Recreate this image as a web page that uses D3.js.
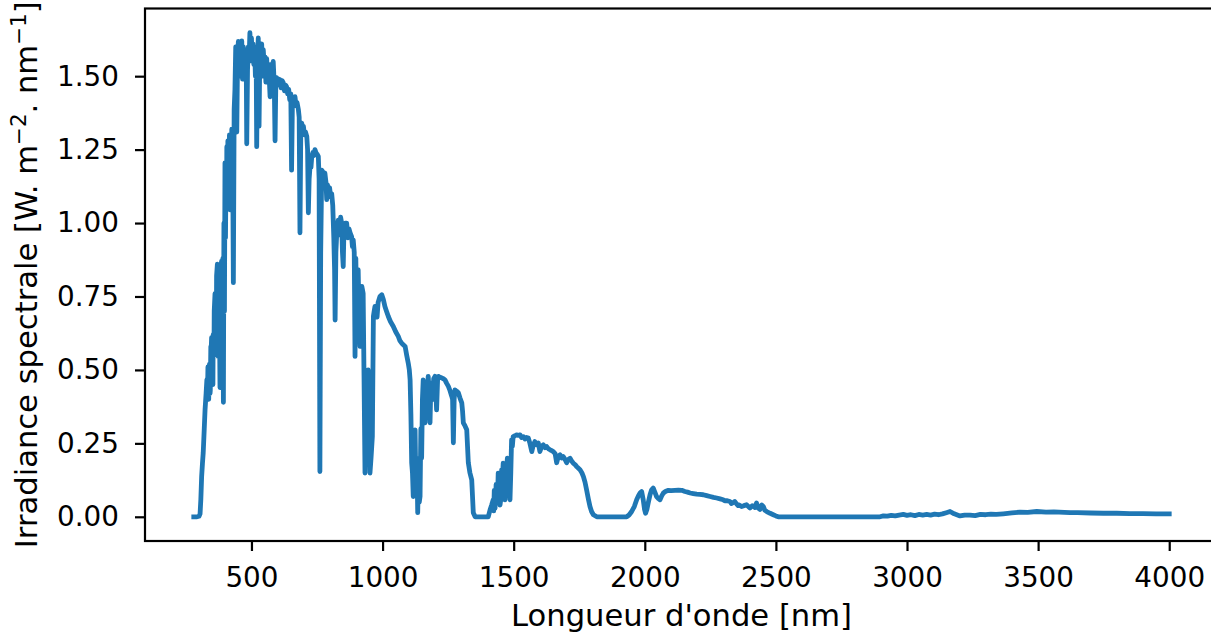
<!DOCTYPE html>
<html>
<head>
<meta charset="utf-8">
<script src="https://cdn.jsdelivr.net/npm/d3@7"></script>
<style>
  html, body { margin: 0; padding: 0; background: #ffffff; }
  svg { display: block; }
  text { font-family: "DejaVu Sans", sans-serif; }
</style>
</head>
<body>
<svg id="chart" width="1211" height="637"></svg>
<script>
// ---- Data: AM1.5 solar spectral irradiance ----
const wavelength = [
  280, 290, 300, 304, 307, 310, 313, 316, 320, 323,
  327, 330, 334, 337, 340, 343, 346, 348, 351, 353,
  356, 358, 361, 364, 367, 370, 373, 375, 377, 380,
  383, 386, 389, 391, 393, 396, 399, 402, 404, 406,
  409, 412, 415, 418, 421, 425, 428, 431, 434, 437,
  440, 442, 444, 447, 450, 453, 456, 459, 463, 466,
  469, 472, 475, 478, 480, 482, 485, 488, 491, 494,
  497, 500, 503, 506, 509, 512, 515, 518, 520, 523,
  526, 529, 532, 535, 539, 542, 545, 549, 552, 555,
  558, 561, 564, 568, 571, 574, 577, 580, 583, 587,
  590, 593, 596, 600, 604, 609, 613, 617, 621, 626,
  630, 634, 638, 642, 646, 650, 653, 656, 660, 663,
  666, 670, 674, 679, 682, 685, 688, 692, 695, 698,
  702, 706, 711, 714, 717, 720, 724, 727, 730, 734,
  738, 742, 746, 750, 755, 758, 761, 764, 768, 772,
  776, 780, 784, 787, 790, 794, 798, 802, 806, 810,
  814, 817, 819, 822, 826, 831, 835, 840, 844, 847,
  850, 853, 857, 863, 868, 872, 876, 882, 885, 888,
  892, 895, 898, 901, 904, 907, 910, 914, 917, 921,
  926, 929, 933, 936, 940, 945, 948, 952, 956, 961,
  965, 968, 971, 975, 979, 983, 990, 997, 1003, 1009,
  1015, 1022, 1030, 1041, 1050, 1060, 1066, 1073, 1080, 1086,
  1092, 1098, 1102, 1105, 1108, 1111, 1114, 1117, 1120, 1124,
  1127, 1131, 1134, 1137, 1140, 1143, 1146, 1149, 1152, 1155,
  1158, 1162, 1166, 1170, 1174, 1178, 1181, 1184, 1187, 1191,
  1195, 1200, 1203, 1206, 1210, 1213, 1219, 1225, 1232, 1238,
  1244, 1251, 1257, 1262, 1264, 1267, 1270, 1273, 1276, 1282,
  1289, 1295, 1302, 1305, 1308, 1314, 1321, 1324, 1327, 1333,
  1340, 1346, 1353, 1380, 1403, 1410, 1416, 1422, 1429, 1435,
  1441, 1448, 1454, 1460, 1467, 1473, 1480, 1486, 1492, 1498,
  1505, 1511, 1518, 1524, 1530, 1537, 1543, 1549, 1556, 1562,
  1569, 1575, 1581, 1588, 1594, 1600, 1607, 1613, 1620, 1626,
  1632, 1639, 1645, 1651, 1658, 1664, 1670, 1677, 1683, 1689,
  1696, 1702, 1708, 1715, 1721, 1727, 1734, 1740, 1746, 1753,
  1760, 1766, 1772, 1778, 1785, 1791, 1797, 1804, 1817, 1850,
  1900, 1931, 1940, 1950, 1960, 1969, 1976, 1982, 1988, 1994,
  1999, 2003, 2008, 2013, 2020, 2026, 2032, 2038, 2045, 2052,
  2058, 2065, 2071, 2080, 2090, 2100, 2115, 2128, 2141, 2153,
  2163, 2173, 2185, 2198, 2210, 2223, 2236, 2249, 2262, 2274,
  2287, 2299, 2312, 2325, 2337, 2350, 2360, 2369, 2378, 2388,
  2395, 2401, 2410, 2420, 2426, 2432, 2439, 2446, 2452, 2458,
  2465, 2478, 2490, 2500, 2509, 2600, 2700, 2800, 2897, 2910,
  2925, 2940, 2955, 2970, 2986, 3000, 3015, 3030, 3045, 3060,
  3075, 3090, 3105, 3120, 3135, 3150, 3164, 3180, 3202, 3220,
  3240, 3260, 3280, 3300, 3320, 3340, 3367, 3400, 3431, 3460,
  3495, 3530, 3560, 3600, 3622, 3650, 3700, 3749, 3800, 3850,
  3900, 3950, 4000,
  395, 397, 400, 401, 403, 405, 407, 408, 410, 411,
  413, 414, 416, 417, 419, 420, 422, 423, 424, 426,
  332, 335, 338, 342, 345, 349, 354, 357, 362, 366,
  1424, 1426, 1431, 1433, 1438, 1443, 1446, 1451, 1457, 1463,
  1470, 1476, 1478, 1483, 1489, 1495, 2305, 2330, 2343, 2356
];

const irradiance = [
  0.000, 0.000, 0.002, 0.010, 0.060, 0.137, 0.180, 0.218, 0.300, 0.364,
  0.420, 0.467, 0.510, 0.400, 0.520, 0.430, 0.560, 0.610, 0.480, 0.450,
  0.620, 0.700, 0.760, 0.580, 0.820, 0.860, 0.546, 0.850, 0.780, 0.440,
  0.840, 0.870, 0.800, 0.880, 0.390, 0.860, 1.205, 1.060, 1.150, 1.260,
  1.100, 1.220, 1.140, 1.045, 1.280, 1.320, 1.250, 0.797, 1.386, 1.454,
  1.600, 1.480, 1.310, 1.560, 1.618, 1.520, 1.600, 1.500, 1.620, 1.490,
  1.600, 1.530, 1.590, 1.500, 1.560, 1.270, 1.520, 1.600, 1.560, 1.648,
  1.580, 1.630, 1.550, 1.610, 1.540, 1.600, 1.500, 1.560, 1.260, 1.560,
  1.630, 1.330, 1.580, 1.540, 1.610, 1.500, 1.590, 1.530, 1.566, 1.480,
  1.560, 1.510, 1.533, 1.490, 1.430, 1.540, 1.500, 1.530, 1.550, 1.470,
  1.280, 1.480, 1.495, 1.470, 1.490, 1.488, 1.460, 1.485, 1.478, 1.450,
  1.470, 1.464, 1.440, 1.455, 1.420, 1.440, 1.180, 1.400, 1.420, 1.400,
  1.430, 1.400, 1.410, 1.386, 1.360, 0.967, 1.300, 1.340, 1.310, 1.330,
  1.300, 1.310, 1.295, 1.250, 1.035, 1.150, 1.200, 1.190, 1.227, 1.240,
  1.230, 1.250, 1.240, 1.235, 1.227, 1.150, 0.154, 0.900, 1.180, 1.175,
  1.160, 1.170, 1.140, 1.080, 1.130, 1.110, 1.120, 1.090, 1.100, 1.060,
  0.950, 0.840, 0.670, 0.900, 0.980, 1.010, 0.960, 1.020, 1.000, 0.900,
  0.852, 0.990, 1.000, 1.000, 0.950, 0.980, 0.967, 0.954, 0.920, 0.943,
  0.900, 0.546, 0.880, 0.700, 0.800, 0.841, 0.700, 0.580, 0.750, 0.784,
  0.760, 0.500, 0.149, 0.400, 0.300, 0.500, 0.350, 0.149, 0.200, 0.273,
  0.682, 0.700, 0.716, 0.700, 0.680, 0.730, 0.750, 0.756, 0.740, 0.716,
  0.700, 0.682, 0.665, 0.648, 0.630, 0.614, 0.600, 0.591, 0.585, 0.580,
  0.550, 0.523, 0.500, 0.466, 0.350, 0.184, 0.150, 0.069, 0.200, 0.296,
  0.100, 0.200, 0.014, 0.150, 0.050, 0.069, 0.300, 0.200, 0.400, 0.466,
  0.380, 0.320, 0.450, 0.400, 0.478, 0.420, 0.320, 0.440, 0.456, 0.400,
  0.470, 0.478, 0.430, 0.364, 0.470, 0.478, 0.475, 0.473, 0.470, 0.466,
  0.455, 0.444, 0.430, 0.415, 0.410, 0.400, 0.252, 0.400, 0.432, 0.428,
  0.422, 0.405, 0.388, 0.360, 0.320, 0.310, 0.296, 0.240, 0.184, 0.150,
  0.126, 0.014, 0.000, 0.000, 0.000, 0.024, 0.040, 0.058, 0.030, 0.070,
  0.149, 0.040, 0.160, 0.183, 0.058, 0.170, 0.180, 0.058, 0.262, 0.273,
  0.276, 0.279, 0.277, 0.279, 0.270, 0.273, 0.265, 0.270, 0.268, 0.250,
  0.222, 0.245, 0.256, 0.245, 0.251, 0.222, 0.240, 0.245, 0.235, 0.239,
  0.232, 0.228, 0.225, 0.222, 0.215, 0.184, 0.205, 0.211, 0.200, 0.205,
  0.195, 0.184, 0.195, 0.199, 0.190, 0.183, 0.178, 0.171, 0.166, 0.160,
  0.150, 0.137, 0.118, 0.092, 0.060, 0.035, 0.018, 0.007, 0.000, 0.000,
  0.000, 0.000, 0.006, 0.018, 0.035, 0.058, 0.072, 0.081, 0.086, 0.058,
  0.025, 0.012, 0.025, 0.047, 0.075, 0.092, 0.098, 0.085, 0.069, 0.062,
  0.058, 0.072, 0.081, 0.087, 0.090, 0.089, 0.090, 0.091, 0.090, 0.086,
  0.084, 0.081, 0.079, 0.077, 0.076, 0.075, 0.072, 0.069, 0.066, 0.064,
  0.061, 0.058, 0.055, 0.052, 0.048, 0.044, 0.040, 0.035, 0.038, 0.041,
  0.035, 0.030, 0.038, 0.032, 0.047, 0.030, 0.025, 0.040, 0.035, 0.022,
  0.018, 0.012, 0.007, 0.003, 0.000, 0.000, 0.000, 0.000, 0.000, 0.003,
  0.002, 0.005, 0.003, 0.006, 0.008, 0.005, 0.007, 0.004, 0.008, 0.006,
  0.008, 0.006, 0.009, 0.007, 0.010, 0.014, 0.018, 0.010, 0.003, 0.006,
  0.006, 0.004, 0.008, 0.007, 0.009, 0.008, 0.010, 0.013, 0.016, 0.015,
  0.018, 0.016, 0.017, 0.015, 0.014, 0.014, 0.013, 0.012, 0.012, 0.011,
  0.011, 0.010, 0.010,
  1.000, 0.700, 1.100, 0.950, 1.200, 1.050, 1.250, 1.100, 1.280, 1.050,
  1.250, 1.080, 1.300, 1.100, 1.220, 1.060, 1.300, 1.120, 1.280, 1.150,
  0.400, 0.480, 0.500, 0.420, 0.580, 0.500, 0.620, 0.550, 0.680, 0.620,
  0.020, 0.090, 0.060, 0.110, 0.050, 0.120, 0.090, 0.060, 0.130, 0.100,
  0.100, 0.200, 0.120, 0.190, 0.150, 0.240, 0.054, 0.045, 0.052, 0.038
];

const xTicks = [500, 1000, 1500, 2000, 2500, 3000, 3500, 4000];
const yTicks = [0.00, 0.25, 0.50, 0.75, 1.00, 1.25, 1.50];
const xLabel = "Longueur d'onde [nm]";
const yLabelParts = ["Irradiance spectrale [W. m", "\u22122", ". nm", "\u22121", "]"];

// ---- Drawing ----
const svg = d3.select("#chart");
const plotLeft = 145, plotRight = 1218, plotTop = 8.5, plotBottom = 541;

const xMin = d3.min(wavelength), xMax = d3.max(wavelength);
const xPad = (xMax - xMin) * 0.05;
const yMin = d3.min(irradiance), yMax = d3.max(irradiance);
const yPad = (yMax - yMin) * 0.05;

const x = d3.scaleLinear().domain([xMin - xPad, xMax + xPad]).range([plotLeft, plotRight]);
const y = d3.scaleLinear().domain([yMin - yPad, yMax + yPad]).range([plotBottom, plotTop]);

const data = d3.sort(wavelength.map((w, i) => ({ w, v: irradiance[i] })), d => d.w);

const line = d3.line().x(d => x(d.w)).y(d => y(d.v));

svg.append("path")
  .datum(data)
  .attr("d", line)
  .attr("fill", "none")
  .attr("stroke", "#1f77b4")
  .attr("stroke-width", 4.8)
  .attr("stroke-linejoin", "round")
  .attr("stroke-linecap", "square");

// spines
svg.append("rect")
  .attr("x", plotLeft).attr("y", plotTop)
  .attr("width", plotRight - plotLeft).attr("height", plotBottom - plotTop)
  .attr("fill", "none").attr("stroke", "#000").attr("stroke-width", 2.2);

// axes
const fontSize = 27.8;
const labelSize = 30.6;
const xAxis = d3.axisBottom(x).tickValues(xTicks).tickFormat(d3.format("d"))
  .tickSize(10).tickSizeOuter(0).tickPadding(16);
const gx = svg.append("g").attr("transform", `translate(0,${plotBottom})`).call(xAxis);
gx.select(".domain").remove();
gx.selectAll(".tick line").attr("stroke", "#000").attr("stroke-width", 2.2);
gx.selectAll(".tick text").attr("font-size", fontSize).attr("fill", "#000")
  .attr("font-family", "DejaVu Sans");

const yAxis = d3.axisLeft(y).tickValues(yTicks).tickFormat(d3.format(".2f"))
  .tickSize(10).tickSizeOuter(0).tickPadding(16);
const gy = svg.append("g").attr("transform", `translate(${plotLeft},0)`).call(yAxis);
gy.select(".domain").remove();
gy.selectAll(".tick line").attr("stroke", "#000").attr("stroke-width", 2.2);
gy.selectAll(".tick text").attr("font-size", fontSize).attr("fill", "#000")
  .attr("font-family", "DejaVu Sans");

// x label
svg.append("text")
  .attr("x", (plotLeft + plotRight) / 2)
  .attr("y", 626)
  .attr("text-anchor", "middle")
  .attr("font-size", labelSize)
  .attr("fill", "#000")
  .text(xLabel);

// y label with superscripts
const yl = svg.append("text")
  .attr("transform", `translate(37,${(plotTop + plotBottom) / 2}) rotate(-90)`)
  .attr("text-anchor", "middle")
  .attr("font-size", labelSize)
  .attr("fill", "#000");
yl.append("tspan").text(yLabelParts[0]);
yl.append("tspan").attr("dy", -11.5).attr("font-size", labelSize * 0.7).text(yLabelParts[1]);
yl.append("tspan").attr("dy", 11.5).text(yLabelParts[2]);
yl.append("tspan").attr("dy", -11.5).attr("font-size", labelSize * 0.7).text(yLabelParts[3]);
yl.append("tspan").attr("dy", 11.5).text(yLabelParts[4]);
</script>
</body>
</html>
